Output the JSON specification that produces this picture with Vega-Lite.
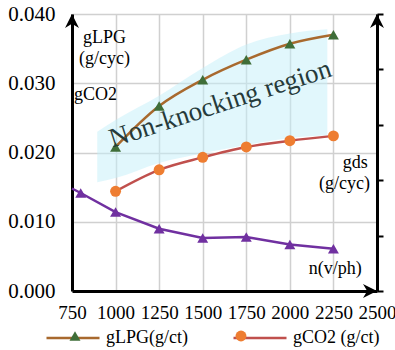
{
  "$schema": "https://vega.github.io/schema/vega-lite/v6.json",
  "autosize": {"type": "none"},
  "padding": {"left": 72, "top": 14, "right": 18, "bottom": 59},
  "width": 305,
  "height": 277,
  "background": "white",
  "config": {
    "font": "Liberation Serif",
    "view": {"stroke": null},
    "axis": {
      "domainColor": "black",
      "domainWidth": 3,
      "gridColor": "#d0d0d0",
      "gridWidth": 1.5,
      "ticks": false,
      "labelFont": "Liberation Serif",
      "labelColor": "black",
      "title": null
    }
  },
  "datasets": {
    "lines": [
      {"series": "gLPG(g/ct)", "x": 1000, "y": 0.0208},
      {"series": "gLPG(g/ct)", "x": 1250, "y": 0.0267},
      {"series": "gLPG(g/ct)", "x": 1500, "y": 0.0305},
      {"series": "gLPG(g/ct)", "x": 1750, "y": 0.0334},
      {"series": "gLPG(g/ct)", "x": 2000, "y": 0.0357},
      {"series": "gLPG(g/ct)", "x": 2250, "y": 0.0370},
      {"series": "gCO2 (g/ct)", "x": 1000, "y": 0.0144},
      {"series": "gCO2 (g/ct)", "x": 1250, "y": 0.0175},
      {"series": "gCO2 (g/ct)", "x": 1500, "y": 0.0193},
      {"series": "gCO2 (g/ct)", "x": 1750, "y": 0.0208},
      {"series": "gCO2 (g/ct)", "x": 2000, "y": 0.0217},
      {"series": "gCO2 (g/ct)", "x": 2250, "y": 0.0224}
    ],
    "purple": [
      {"x": 750, "y": 0.0148},
      {"x": 800, "y": 0.01415},
      {"x": 1000, "y": 0.0114},
      {"x": 1250, "y": 0.0090},
      {"x": 1500, "y": 0.00765},
      {"x": 1750, "y": 0.0078},
      {"x": 2000, "y": 0.0067},
      {"x": 2250, "y": 0.0061}
    ],
    "region": [
      {"x": 895, "top": 0.0230, "bottom": 0.0157},
      {"x": 1000, "top": 0.0247, "bottom": 0.0163},
      {"x": 1250, "top": 0.0282, "bottom": 0.0185},
      {"x": 1500, "top": 0.0322, "bottom": 0.0199},
      {"x": 1750, "top": 0.0356, "bottom": 0.0211},
      {"x": 2000, "top": 0.0372, "bottom": 0.0221},
      {"x": 2215, "top": 0.0378, "bottom": 0.0225}
    ],
    "notes": [
      {"label": "gLPG", "x": 936, "y": 0.0365},
      {"label": "(g/cyc)", "x": 936, "y": 0.0335},
      {"label": "gCO2", "x": 885, "y": 0.0283},
      {"label": "gds", "x": 2375, "y": 0.0185},
      {"label": "(g/cyc)", "x": 2313, "y": 0.01545},
      {"label": "n(v/ph)", "x": 2261, "y": 0.0032}
    ],
    "big": [
      {"label": "Non-knocking region", "x": 1601, "y": 0.0270}
    ]
  },
  "layer": [
    {
      "layer": [
        {
          "data": {"name": "region"},
          "mark": {"type": "area", "color": "#c4f0fa", "opacity": 0.5, "interpolate": "monotone"},
          "encoding": {
            "x": {
              "field": "x", "type": "quantitative",
              "scale": {"domain": [750, 2500], "nice": false, "zero": false},
              "axis": {
                "values": [750, 1000, 1250, 1500, 1750, 2000, 2250, 2500], "format": "d",
                "grid": true, "labelFontSize": 19, "labelPadding": 12,
                "labelFlush": false, "labelOverlap": false
              }
            },
            "y": {
              "field": "top", "type": "quantitative",
              "scale": {"domain": [0, 0.04], "nice": false},
              "axis": {
                "values": [0, 0.01, 0.02, 0.03, 0.04], "format": ".3f",
                "grid": true, "labelFontSize": 21, "labelPadding": 17
              }
            },
            "y2": {"field": "bottom"}
          }
        },
        {
          "data": {"name": "lines"},
          "mark": {"type": "line", "strokeWidth": 2.5, "interpolate": "monotone"},
          "encoding": {
            "x": {"field": "x", "type": "quantitative"},
            "y": {"field": "y", "type": "quantitative"},
            "stroke": {
              "field": "series", "type": "nominal",
              "scale": {"domain": ["gLPG(g/ct)", "gCO2 (g/ct)"], "range": ["#a8692e", "#c0504d"]},
              "legend": {
                "orient": "none", "legendX": -27, "legendY": 296, "direction": "horizontal",
                "title": null, "symbolType": "stroke", "symbolSize": 2809, "symbolStrokeWidth": 2.5,
                "labelFontSize": 18, "labelFont": "Liberation Serif", "labelColor": "black",
                "labelOffset": 5, "columnPadding": 40
              }
            }
          }
        },
        {
          "data": {"name": "lines"},
          "mark": {"type": "point", "filled": true, "size": 120, "opacity": 1, "strokeWidth": 0},
          "encoding": {
            "x": {"field": "x", "type": "quantitative"},
            "y": {"field": "y", "type": "quantitative"},
            "fill": {
              "field": "series", "type": "nominal",
              "scale": {"domain": ["gCO2 (g/ct)", "gLPG(g/ct)"], "range": ["#ee7d31", "#3f6e38"]},
              "legend": {
                "values": ["gLPG(g/ct)", "gCO2 (g/ct)"],
                "orient": "none", "legendX": -6, "legendY": 313, "direction": "horizontal",
                "title": null, "symbolSize": 120, "symbolStrokeWidth": 0, "symbolOpacity": 1,
                "labelFontSize": 18, "labelFont": "Liberation Serif", "labelOpacity": 0,
                "labelOffset": 26, "columnPadding": 40
              }
            },
            "shape": {
              "field": "series", "type": "nominal",
              "scale": {"domain": ["gCO2 (g/ct)", "gLPG(g/ct)"], "range": ["circle", "triangle-up"]},
              "legend": {
                "values": ["gLPG(g/ct)", "gCO2 (g/ct)"],
                "orient": "none", "legendX": -6, "legendY": 313, "direction": "horizontal",
                "title": null, "symbolSize": 120, "symbolStrokeWidth": 0, "symbolOpacity": 1,
                "labelFontSize": 18, "labelFont": "Liberation Serif", "labelOpacity": 0,
                "labelOffset": 26, "columnPadding": 40
              }
            }
          }
        },
        {
          "data": {"name": "purple"},
          "mark": {"type": "line", "strokeWidth": 2.5, "color": "#7030a0"},
          "encoding": {
            "x": {"field": "x", "type": "quantitative"},
            "y": {"field": "y", "type": "quantitative"}
          }
        },
        {
          "data": {"name": "purple"},
          "transform": [{"filter": "datum.x >= 800"}],
          "mark": {"type": "point", "shape": "triangle-up", "filled": true, "size": 120, "opacity": 1, "color": "#7030a0"},
          "encoding": {
            "x": {"field": "x", "type": "quantitative"},
            "y": {"field": "y", "type": "quantitative"}
          }
        },
        {
          "data": {"name": "notes"},
          "mark": {"type": "text", "fontSize": 18, "font": "Liberation Serif", "color": "black", "align": "center", "baseline": "middle"},
          "encoding": {
            "x": {"field": "x", "type": "quantitative"},
            "y": {"field": "y", "type": "quantitative"},
            "text": {"field": "label"}
          }
        },
        {
          "data": {"name": "big"},
          "mark": {"type": "text", "fontSize": 27, "font": "Liberation Serif", "color": "#263a3a", "align": "center", "baseline": "middle", "angle": -18},
          "encoding": {
            "x": {"field": "x", "type": "quantitative"},
            "y": {"field": "y", "type": "quantitative"},
            "text": {"field": "label"}
          }
        },
        {
          "data": {"values": [{"x": 750, "y": 0.04}]},
          "mark": {"type": "point", "shape": "M0,0L1,2L0,1.4L-1,2Z", "size": 196, "filled": true, "opacity": 1, "color": "black"},
          "encoding": {
            "x": {"field": "x", "type": "quantitative"},
            "y": {"field": "y", "type": "quantitative"}
          }
        },
        {
          "data": {"values": [{"x": 2500, "y": 0}]},
          "mark": {"type": "point", "shape": "M0,0L-2,-1L-1.4,0L-2,1Z", "size": 196, "filled": true, "opacity": 1, "color": "black"},
          "encoding": {
            "x": {"field": "x", "type": "quantitative"},
            "y": {"field": "y", "type": "quantitative"}
          }
        }
      ]
    },
    {
      "data": {"values": [{"x": 2500, "ry": 5}]},
      "mark": {"type": "point", "shape": "M0,0L1,2L0,1.4L-1,2Z", "size": 196, "filled": true, "opacity": 1, "color": "black"},
      "encoding": {
        "x": {"field": "x", "type": "quantitative"},
        "y": {
          "field": "ry", "type": "quantitative",
          "scale": {"domain": [0, 5], "nice": false},
          "axis": {
            "orient": "right", "values": [0, 1, 2, 3, 4, 5], "format": ".1f",
            "grid": false, "ticks": true, "tickSize": 6, "tickWidth": 2, "tickColor": "black",
            "labelFontSize": 21, "labelPadding": 13
          }
        }
      }
    }
  ],
  "resolve": {"scale": {"y": "independent"}}
}
